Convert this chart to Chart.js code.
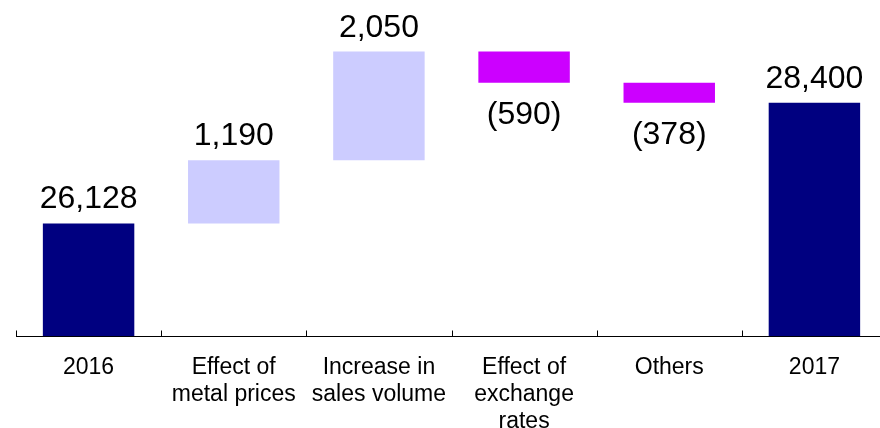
<!DOCTYPE html>
<html>
<head>
<meta charset="utf-8">
<script src="https://cdn.jsdelivr.net/npm/chart.js@4.4.1/dist/chart.umd.min.js"></script>
<style>
    html, body { margin: 0; padding: 0; background: #fff; overflow: hidden; }
    #wrap { width: 880px; height: 428px; overflow: hidden; }
</style>
</head>
<body>
<div id="wrap"><canvas id="myChart" width="890" height="453"></canvas></div>
<script>
const categories = ['2016', ['Effect of', 'metal prices'], ['Increase in', 'sales volume'], ['Effect of', 'exchange', 'rates'], 'Others', '2017'];
const values = [26128, 1190, 2050, -590, -378, 28400];
const isTotal = [true, false, false, false, false, true];
const yMin = 24000;
const yMax = 30000;

// build floating bars from the running total
let running = 0;
const bars = [];
const colors = [];
for (let i = 0; i < values.length; i++) {
    if (isTotal[i]) {
        bars.push([yMin, values[i]]);
        running = values[i];
        colors.push('#000080');
    } else {
        bars.push([running, running + values[i]]);
        running += values[i];
        colors.push(values[i] >= 0 ? '#ccccff' : '#cc00ff');
    }
}

function fmt(v) {
    const s = Math.abs(v).toLocaleString('en-US');
    return v < 0 ? '(' + s + ')' : s;
}

const FONT = '"Liberation Sans", Arial, sans-serif';

const valueLabels = {
    id: 'valueLabels',
    afterDatasetsDraw(chart) {
        const ctx = chart.ctx;
        const meta = chart.getDatasetMeta(0);
        ctx.save();
        ctx.font = '32px ' + FONT;
        ctx.fillStyle = '#000';
        ctx.textAlign = 'center';
        meta.data.forEach((bar, i) => {
            const top = Math.min(bar.y, bar.base);
            const bottom = Math.max(bar.y, bar.base);
            if (values[i] >= 0) {
                ctx.textBaseline = 'alphabetic';
                ctx.fillText(fmt(values[i]), bar.x, top - 15);
            } else {
                ctx.textBaseline = 'top';
                ctx.fillText(fmt(values[i]), bar.x, bottom + 16);
            }
        });
        ctx.restore();
    }
};

// small tick marks pointing up from the axis, at category boundaries
const innerTicks = {
    id: 'innerTicks',
    afterDraw(chart) {
        const x = chart.scales.x;
        const ctx = chart.ctx;
        const w = x.getPixelForValue(1) - x.getPixelForValue(0);
        const y0 = Math.round(chart.chartArea.bottom) + 0.5;
        ctx.save();
        ctx.strokeStyle = '#000';
        ctx.lineWidth = 1;
        ctx.beginPath();
        for (let i = 0; i <= categories.length; i++) {
            const px = Math.round(x.getPixelForValue(0) - w / 2 + i * w) + 0.5;
            ctx.moveTo(px, y0);
            ctx.lineTo(px, y0 - 6);
        }
        ctx.stroke();
        ctx.restore();
    }
};

const ctx = document.getElementById('myChart').getContext('2d');
new Chart(ctx, {
    type: 'bar',
    data: {
        labels: categories,
        datasets: [{
            data: bars,
            backgroundColor: colors,
            borderWidth: 0,
            borderSkipped: false,
            barPercentage: 0.63,
            categoryPercentage: 1
        }]
    },
    options: {
        responsive: false,
        animation: false,
        layout: { padding: { top: 18, left: 16, right: 3, bottom: 0 } },
        plugins: {
            legend: { display: false },
            tooltip: { enabled: false }
        },
        scales: {
            x: {
                grid: {
                    offset: true,
                    drawOnChartArea: false,
                    drawTicks: false
                },
                border: { display: true, color: '#000', width: 1 },
                ticks: {
                    color: '#000',
                    padding: 18,
                    font: { family: FONT, size: 23, lineHeight: 1.17 }
                }
            },
            y: {
                display: false,
                min: yMin,
                max: yMax
            }
        }
    },
    plugins: [valueLabels, innerTicks]
});
</script>
</body>
</html>
